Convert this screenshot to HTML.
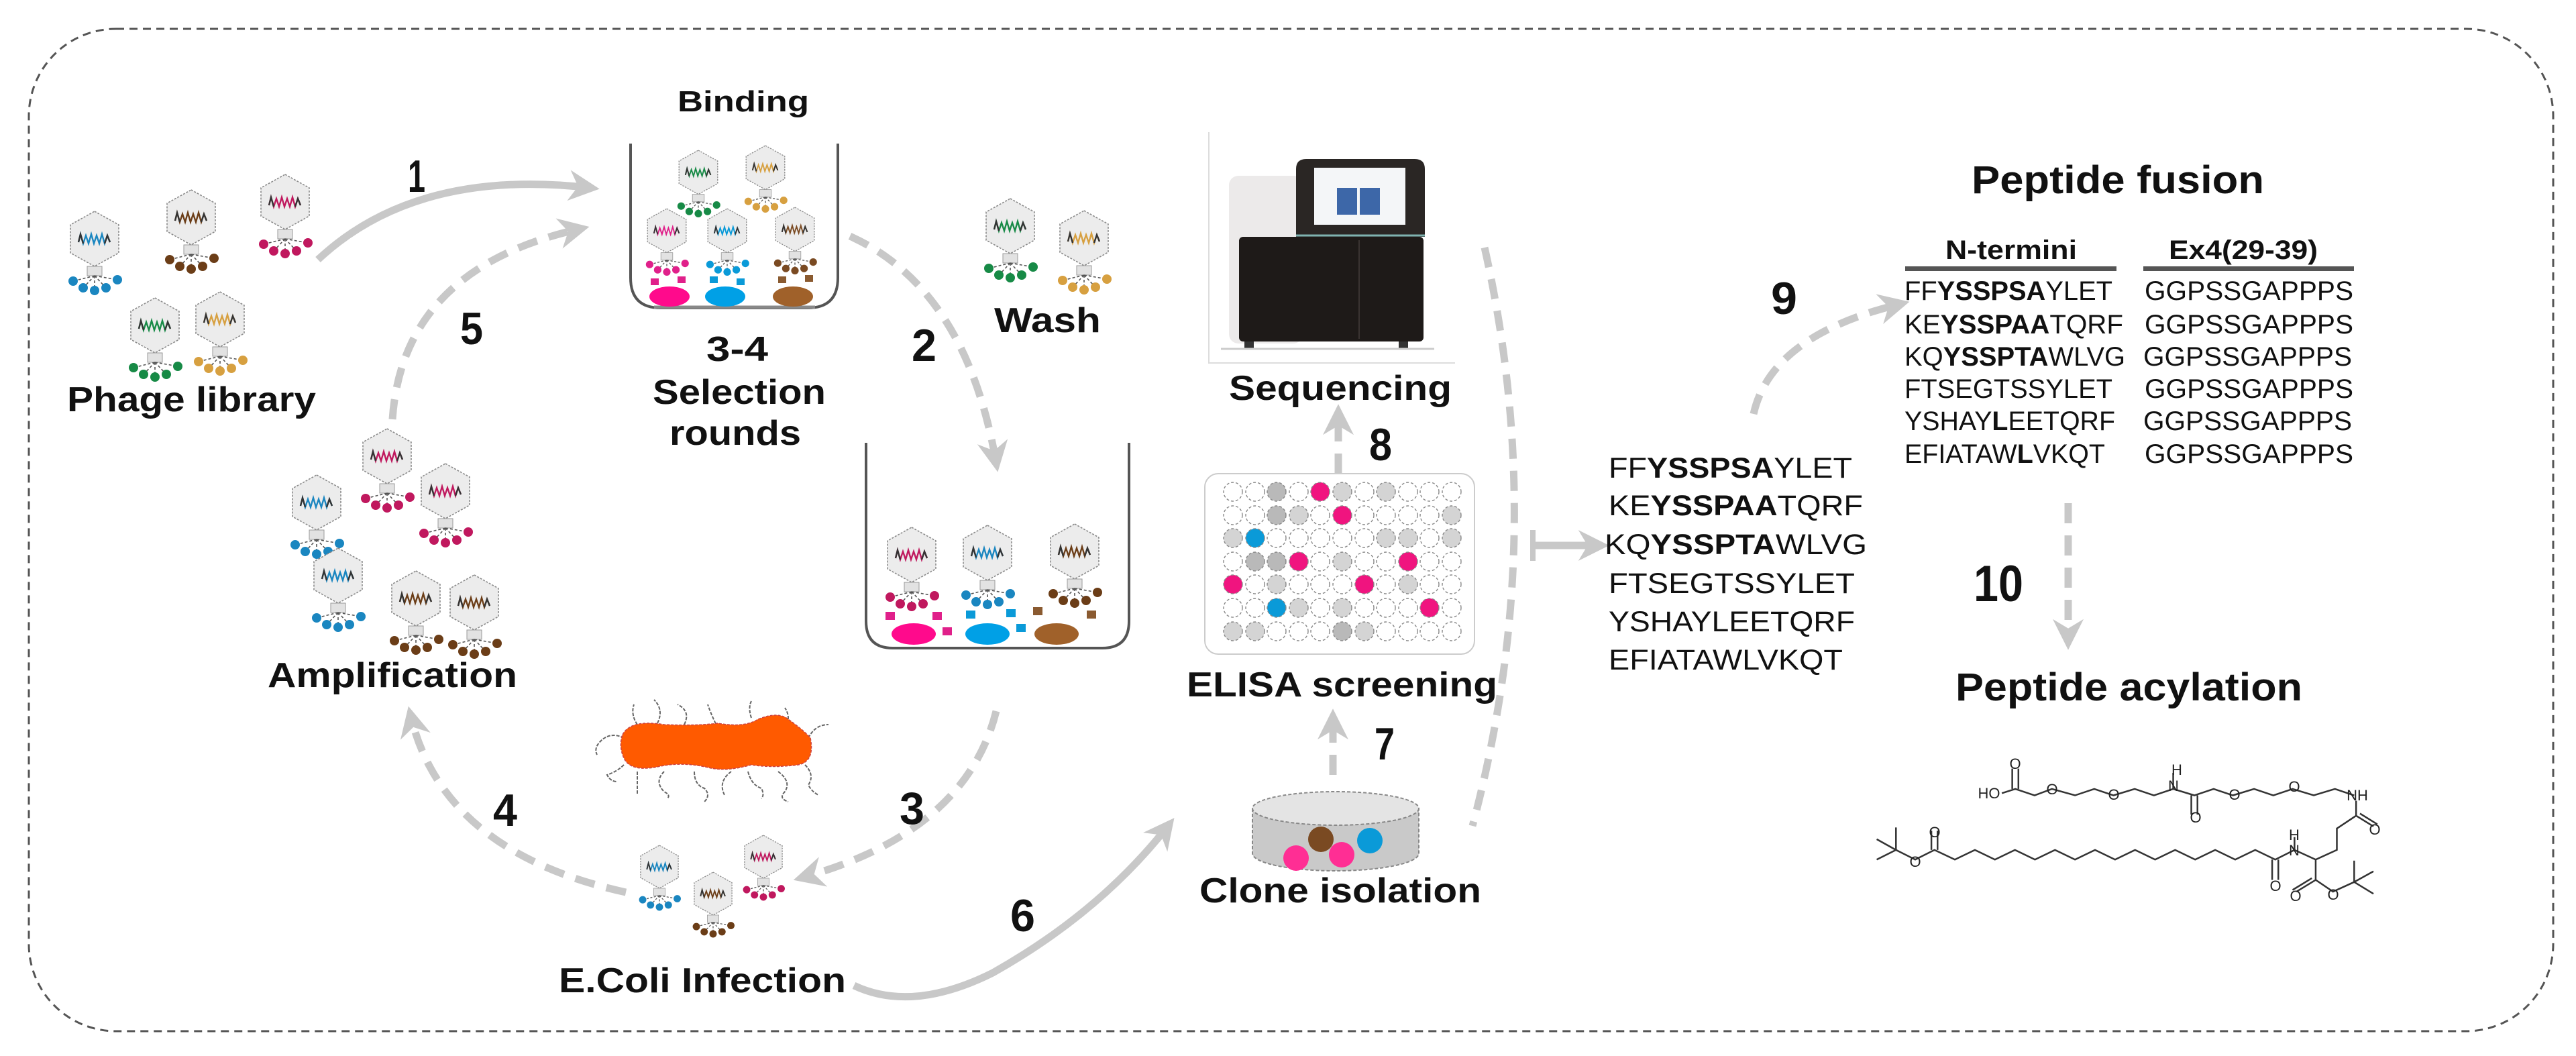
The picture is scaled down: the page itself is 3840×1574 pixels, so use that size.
<!DOCTYPE html>
<html><head><meta charset="utf-8"><style>
html,body{margin:0;padding:0;background:#fff}
svg{display:block}
text{font-family:"Liberation Sans",Arial,sans-serif}
.lb{font-weight:bold;font-size:52px;fill:#111}
.num{font-weight:bold;font-size:68px;fill:#111}
.sq{font-size:43px;fill:#111}
.tb{font-size:40px;fill:#111}
.ch{font-size:22px;fill:#222}
</style></head><body>
<svg width="3840" height="1574" viewBox="0 0 3840 1574" xmlns="http://www.w3.org/2000/svg">
<defs>
<marker id="ah" viewBox="0 0 10 10" refX="7" refY="5" markerWidth="46" markerHeight="46" markerUnits="userSpaceOnUse" orient="auto">
<path d="M0,0 L10,5 L0,10 L3,5 z" fill="#c8c8c8"/>
</marker>
<g id="ph">
<polygon points="0,0 36,20 36,62 0,82 -36,62 -36,20" fill="#ececec" stroke="#8a8a8a" stroke-width="1.6" stroke-dasharray="3 2"/>
<polyline points="-24,46 -21,34 -17,48 -13,36 -9,48 -5,34 -1,48 3,36 7,48 11,34 15,48 19,36 23,46" fill="none" stroke="currentColor" stroke-width="2.4"/>
<polyline points="-24,46 -21,34 -17,48 M15,48" fill="none" stroke="#333" stroke-width="2.4"/>
<polyline points="15,48 19,36 23,46" fill="none" stroke="#333" stroke-width="2.4"/>
<rect x="-11" y="82" width="22" height="14" fill="#e2e2e2" stroke="#999" stroke-width="1"/>
<g stroke="#555" stroke-width="1.6" stroke-dasharray="4 3">
<line x1="0" y1="96" x2="-32" y2="104"/><line x1="0" y1="96" x2="-17" y2="114"/><line x1="0" y1="96" x2="0" y2="118"/><line x1="0" y1="96" x2="17" y2="114"/><line x1="0" y1="96" x2="34" y2="102"/>
</g>
<g fill="currentColor"><circle cx="-32" cy="104" r="7"/><circle cx="-17" cy="114" r="7"/><circle cx="0" cy="118" r="7"/><circle cx="17" cy="114" r="7"/><circle cx="34" cy="102" r="7"/></g>
</g>
</defs>

<!-- outer dashed border -->
<rect x="43" y="43" width="3763" height="1494" rx="130" fill="none" stroke="#555" stroke-width="3" stroke-dasharray="12 8"/>

<!-- Phage library -->
<use href="#ph" transform="translate(141,315)" color="#1a86c0"/>
<use href="#ph" transform="translate(285,283)" color="#6b3d17"/>
<use href="#ph" transform="translate(425,260)" color="#c0185e"/>
<use href="#ph" transform="translate(231,444)" color="#178a46"/>
<use href="#ph" transform="translate(328,435)" color="#d7a040"/>
<text class="lb" x="100" y="613" textLength="371" lengthAdjust="spacingAndGlyphs">Phage library</text>

<!-- arrow 1 -->
<path d="M474,387 Q620,250 880,280" fill="none" stroke="#c8c8c8" stroke-width="11" marker-end="url(#ah)"/>
<text class="num" x="608" y="286" textLength="26" lengthAdjust="spacingAndGlyphs">1</text>
<!-- arrow 5 -->
<path d="M585,625 Q600,400 865,341" fill="none" stroke="#c8c8c8" stroke-width="11" stroke-dasharray="30 18" marker-end="url(#ah)"/>
<text class="num" x="686" y="513" textLength="34" lengthAdjust="spacingAndGlyphs">5</text>

<!-- Binding beaker -->
<text class="lb" style="font-size:44px" x="1010" y="166" textLength="196" lengthAdjust="spacingAndGlyphs">Binding</text>
<path d="M940,214 V414 Q940,459 985,459 H1204 Q1249,459 1249,414 V214" fill="none" stroke="#555" stroke-width="4"/>
<line x1="975" y1="458" x2="1215" y2="458" stroke="#888" stroke-width="5"/>
<use href="#ph" transform="translate(1041,224) scale(0.8)" color="#178a46"/>
<use href="#ph" transform="translate(1141,217) scale(0.8)" color="#d7a040"/>
<ellipse cx="998" cy="442" rx="30" ry="15" fill="#ff0a8c"/>
<ellipse cx="1081" cy="442" rx="30" ry="15" fill="#00a0e6"/>
<ellipse cx="1182" cy="442" rx="30" ry="15" fill="#a0612a"/>
<use href="#ph" transform="translate(994,311) scale(0.8)" color="#e0208a"/>
<use href="#ph" transform="translate(1084,311) scale(0.8)" color="#0a9ad8"/>
<use href="#ph" transform="translate(1185,309) scale(0.8)" color="#7a4a22"/>
<g fill="#e0208a"><rect x="970" y="415" width="12" height="10"/><rect x="1010" y="412" width="12" height="10"/></g>
<g fill="#0a9ad8"><rect x="1058" y="412" width="12" height="10"/><rect x="1098" y="415" width="12" height="10"/></g>
<g fill="#8a5a30"><rect x="1160" y="412" width="12" height="10"/><rect x="1200" y="410" width="12" height="10"/></g>
<text class="lb" x="1053" y="538" textLength="92" lengthAdjust="spacingAndGlyphs">3-4</text>
<text class="lb" x="973" y="602" textLength="258" lengthAdjust="spacingAndGlyphs">Selection</text>
<text class="lb" x="998" y="663" textLength="196" lengthAdjust="spacingAndGlyphs">rounds</text>

<!-- Wash -->
<use href="#ph" transform="translate(1506,296)" color="#178a46"/>
<use href="#ph" transform="translate(1616,314)" color="#d7a040"/>
<text class="lb" x="1482" y="495" textLength="159" lengthAdjust="spacingAndGlyphs">Wash</text>

<!-- arrow 2 -->
<path d="M1267,352 Q1440,430 1485,690" fill="none" stroke="#c8c8c8" stroke-width="11" stroke-dasharray="30 18" marker-end="url(#ah)"/>
<text class="num" x="1359" y="538" textLength="37" lengthAdjust="spacingAndGlyphs">2</text>

<!-- beaker 2 -->
<path d="M1291,660 V926 Q1291,966 1331,966 H1643 Q1683,966 1683,926 V660" fill="none" stroke="#555" stroke-width="4"/>
<ellipse cx="1362" cy="945" rx="33" ry="16" fill="#ff0a8c"/>
<ellipse cx="1472" cy="945" rx="33" ry="16" fill="#00a0e6"/>
<ellipse cx="1575" cy="945" rx="33" ry="16" fill="#a0612a"/>
<use href="#ph" transform="translate(1359,786)" color="#c0185e"/>
<use href="#ph" transform="translate(1472,783)" color="#1a86c0"/>
<use href="#ph" transform="translate(1602,781)" color="#6b3d17"/>
<g fill="#e0208a"><rect x="1320" y="912" width="14" height="12"/><rect x="1390" y="912" width="14" height="12"/><rect x="1405" y="935" width="14" height="12"/></g>
<g fill="#0a9ad8"><rect x="1440" y="910" width="14" height="12"/><rect x="1500" y="908" width="14" height="12"/><rect x="1515" y="930" width="14" height="12"/></g>
<g fill="#8a5a30"><rect x="1540" y="905" width="14" height="12"/><rect x="1620" y="910" width="14" height="12"/></g>

<!-- arrow 3 -->
<path d="M1485,1060 Q1440,1240 1196,1308" fill="none" stroke="#c8c8c8" stroke-width="11" stroke-dasharray="30 18" marker-end="url(#ah)"/>
<text class="num" x="1341" y="1228" textLength="37" lengthAdjust="spacingAndGlyphs">3</text>
<!-- arrow 4 -->
<path d="M933,1330 Q660,1270 612,1066" fill="none" stroke="#c8c8c8" stroke-width="11" stroke-dasharray="30 18" marker-end="url(#ah)"/>
<text class="num" x="735" y="1231" textLength="36" lengthAdjust="spacingAndGlyphs">4</text>

<!-- bacterium -->
<g fill="none" stroke="#666" stroke-width="2" stroke-dasharray="5 2">
<path d="M930,1100 q-20,-10 -35,5 q-10,10 -5,20"/>
<path d="M930,1140 q-10,10 -25,15 q5,10 15,10"/>
<path d="M950,1080 q-10,-15 -5,-30"/>
<path d="M980,1078 q10,-20 -5,-35"/>
<path d="M1020,1080 q10,-20 -10,-30"/>
<path d="M1070,1085 q-10,-20 -15,-35"/>
<path d="M1120,1070 q-5,-15 0,-25"/>
<path d="M1170,1085 q10,-15 0,-30"/>
<path d="M1205,1100 q10,-20 30,-20"/>
<path d="M950,1150 v35"/><path d="M990,1150 q-15,15 0,30 q10,5 5,10"/>
<path d="M1035,1150 q0,20 15,25 q10,10 0,20"/><path d="M1090,1150 q-20,15 -10,35"/>
<path d="M1115,1150 q5,20 20,25 q5,10 0,15"/><path d="M1160,1150 q20,15 10,30 q-10,10 5,15"/>
<path d="M1200,1140 q15,15 5,30 q5,10 15,15"/>
</g>
<path d="M928,1095 Q940,1072 990,1080 Q1040,1082 1070,1078 Q1110,1085 1130,1072 Q1160,1060 1175,1072 Q1200,1090 1208,1100 Q1215,1135 1190,1140 Q1150,1145 1120,1140 Q1085,1150 1060,1145 Q1020,1135 985,1142 Q940,1152 930,1130 Q922,1112 928,1095 Z" fill="#ff5a00" stroke="#c44" stroke-width="1.5" stroke-dasharray="4 2"/>

<!-- E.coli phages -->
<use href="#ph" transform="translate(983,1260) scale(0.78)" color="#1a86c0"/>
<use href="#ph" transform="translate(1138,1245) scale(0.78)" color="#c0185e"/>
<use href="#ph" transform="translate(1063,1300) scale(0.78)" color="#6b3d17"/>
<text class="lb" x="833" y="1479" textLength="428" lengthAdjust="spacingAndGlyphs">E.Coli Infection</text>

<!-- arrow 6 -->
<path d="M1273,1469 Q1360,1510 1480,1450 Q1640,1360 1742,1230" fill="none" stroke="#c8c8c8" stroke-width="11" marker-end="url(#ah)"/>
<text class="num" x="1506" y="1388" textLength="37" lengthAdjust="spacingAndGlyphs">6</text>

<!-- Amplification -->
<use href="#ph" transform="translate(577,639)" color="#c0185e"/>
<use href="#ph" transform="translate(664,691)" color="#c0185e"/>
<use href="#ph" transform="translate(472,708)" color="#1a86c0"/>
<use href="#ph" transform="translate(504,817)" color="#1a86c0"/>
<use href="#ph" transform="translate(620,851)" color="#6b3d17"/>
<use href="#ph" transform="translate(707,857)" color="#6b3d17"/>
<text class="lb" x="399" y="1024" textLength="372" lengthAdjust="spacingAndGlyphs">Amplification</text>

<!-- Sequencer -->
<path d="M1802,197 V541 H2169" fill="none" stroke="#ddd" stroke-width="2"/>
<rect x="1832" y="262" width="110" height="250" rx="14" fill="#eceaea"/>
<path d="M1932,353 V252 Q1932,237 1947,237 H2109 Q2124,237 2124,252 V353 Z" fill="#2a2624"/>
<rect x="1959" y="250" width="136" height="85" fill="#f4f6f8"/>
<rect x="1993" y="280" width="30" height="40" fill="#3d67a8"/>
<rect x="2027" y="280" width="30" height="40" fill="#3d67a8"/>
<rect x="1847" y="353" width="275" height="156" rx="6" fill="#1e1a18"/>
<line x1="1932" y1="351" x2="2124" y2="351" stroke="#7fb3b0" stroke-width="3"/>
<line x1="2026" y1="358" x2="2026" y2="505" stroke="#3a3432" stroke-width="2"/>
<rect x="1855" y="509" width="14" height="10" fill="#333"/><rect x="2085" y="509" width="14" height="10" fill="#333"/>
<line x1="1820" y1="520" x2="2138" y2="520" stroke="#ccc" stroke-width="3"/>
<text class="lb" x="1832" y="596" textLength="332" lengthAdjust="spacingAndGlyphs">Sequencing</text>

<!-- arrow 8 -->
<path d="M1995,706 V616" fill="none" stroke="#c8c8c8" stroke-width="11" stroke-dasharray="30 18" marker-end="url(#ah)"/>
<text class="num" x="2041" y="686" textLength="34" lengthAdjust="spacingAndGlyphs">8</text>

<!-- ELISA plate -->
<rect x="1796" y="706" width="402" height="269" rx="20" fill="#fff" stroke="#ccc" stroke-width="2"/>
<g id="plate" stroke="#777" stroke-width="1.5" stroke-dasharray="4 3"></g>
<g stroke="#888" stroke-width="1.4" stroke-dasharray="4 3">
<!-- row 0 -->
<circle cx="1838" cy="733" r="14" fill="#fff"/><circle cx="1871" cy="733" r="14" fill="#fff"/><circle cx="1903" cy="733" r="14" fill="#b9b9b9"/><circle cx="1936" cy="733" r="14" fill="#fff"/><circle cx="1968" cy="733" r="14" fill="#f0147f"/><circle cx="2001" cy="733" r="14" fill="#d4d4d4"/><circle cx="2034" cy="733" r="14" fill="#fff"/><circle cx="2066" cy="733" r="14" fill="#d4d4d4"/><circle cx="2099" cy="733" r="14" fill="#fff"/><circle cx="2131" cy="733" r="14" fill="#fff"/><circle cx="2164" cy="733" r="14" fill="#fff"/>
<!-- row 1 -->
<circle cx="1838" cy="768" r="14" fill="#fff"/><circle cx="1871" cy="768" r="14" fill="#fff"/><circle cx="1903" cy="768" r="14" fill="#b9b9b9"/><circle cx="1936" cy="768" r="14" fill="#d4d4d4"/><circle cx="1968" cy="768" r="14" fill="#fff"/><circle cx="2001" cy="768" r="14" fill="#f0147f"/><circle cx="2034" cy="768" r="14" fill="#fff"/><circle cx="2066" cy="768" r="14" fill="#fff"/><circle cx="2099" cy="768" r="14" fill="#fff"/><circle cx="2131" cy="768" r="14" fill="#fff"/><circle cx="2164" cy="768" r="14" fill="#d4d4d4"/>
<!-- row 2 -->
<circle cx="1838" cy="802" r="14" fill="#d4d4d4"/><circle cx="1871" cy="802" r="14" fill="#0a9ad8"/><circle cx="1903" cy="802" r="14" fill="#fff"/><circle cx="1936" cy="802" r="14" fill="#fff"/><circle cx="1968" cy="802" r="14" fill="#fff"/><circle cx="2001" cy="802" r="14" fill="#fff"/><circle cx="2034" cy="802" r="14" fill="#fff"/><circle cx="2066" cy="802" r="14" fill="#d4d4d4"/><circle cx="2099" cy="802" r="14" fill="#d4d4d4"/><circle cx="2131" cy="802" r="14" fill="#fff"/><circle cx="2164" cy="802" r="14" fill="#d4d4d4"/>
<!-- row 3 -->
<circle cx="1838" cy="837" r="14" fill="#fff"/><circle cx="1871" cy="837" r="14" fill="#b9b9b9"/><circle cx="1903" cy="837" r="14" fill="#b9b9b9"/><circle cx="1936" cy="837" r="14" fill="#f0147f"/><circle cx="1968" cy="837" r="14" fill="#fff"/><circle cx="2001" cy="837" r="14" fill="#d4d4d4"/><circle cx="2034" cy="837" r="14" fill="#fff"/><circle cx="2066" cy="837" r="14" fill="#fff"/><circle cx="2099" cy="837" r="14" fill="#f0147f"/><circle cx="2131" cy="837" r="14" fill="#fff"/><circle cx="2164" cy="837" r="14" fill="#fff"/>
<!-- row 4 -->
<circle cx="1838" cy="871" r="14" fill="#f0147f"/><circle cx="1871" cy="871" r="14" fill="#fff"/><circle cx="1903" cy="871" r="14" fill="#d4d4d4"/><circle cx="1936" cy="871" r="14" fill="#fff"/><circle cx="1968" cy="871" r="14" fill="#fff"/><circle cx="2001" cy="871" r="14" fill="#fff"/><circle cx="2034" cy="871" r="14" fill="#f0147f"/><circle cx="2066" cy="871" r="14" fill="#fff"/><circle cx="2099" cy="871" r="14" fill="#d4d4d4"/><circle cx="2131" cy="871" r="14" fill="#fff"/><circle cx="2164" cy="871" r="14" fill="#fff"/>
<!-- row 5 -->
<circle cx="1838" cy="906" r="14" fill="#fff"/><circle cx="1871" cy="906" r="14" fill="#fff"/><circle cx="1903" cy="906" r="14" fill="#0a9ad8"/><circle cx="1936" cy="906" r="14" fill="#d4d4d4"/><circle cx="1968" cy="906" r="14" fill="#fff"/><circle cx="2001" cy="906" r="14" fill="#d4d4d4"/><circle cx="2034" cy="906" r="14" fill="#fff"/><circle cx="2066" cy="906" r="14" fill="#fff"/><circle cx="2099" cy="906" r="14" fill="#fff"/><circle cx="2131" cy="906" r="14" fill="#f0147f"/><circle cx="2164" cy="906" r="14" fill="#fff"/>
<!-- row 6 -->
<circle cx="1838" cy="941" r="14" fill="#d4d4d4"/><circle cx="1871" cy="941" r="14" fill="#d4d4d4"/><circle cx="1903" cy="941" r="14" fill="#fff"/><circle cx="1936" cy="941" r="14" fill="#fff"/><circle cx="1968" cy="941" r="14" fill="#fff"/><circle cx="2001" cy="941" r="14" fill="#b9b9b9"/><circle cx="2034" cy="941" r="14" fill="#d4d4d4"/><circle cx="2066" cy="941" r="14" fill="#fff"/><circle cx="2099" cy="941" r="14" fill="#fff"/><circle cx="2131" cy="941" r="14" fill="#fff"/><circle cx="2164" cy="941" r="14" fill="#fff"/>
</g>
<text class="lb" x="1769" y="1038" textLength="463" lengthAdjust="spacingAndGlyphs">ELISA screening</text>

<!-- arrow 7 -->
<path d="M1987,1155 V1070" fill="none" stroke="#c8c8c8" stroke-width="11" stroke-dasharray="30 18" marker-end="url(#ah)"/>
<text class="num" x="2049" y="1132" textLength="30" lengthAdjust="spacingAndGlyphs">7</text>

<!-- Petri dish -->
<path d="M1867,1205 V1272 A124,26 0 0 0 2115,1272 V1205 Z" fill="#c9c9c9" stroke="#888" stroke-width="2" stroke-dasharray="5 3"/>
<ellipse cx="1991" cy="1205" rx="124" ry="25" fill="#e4e4e4" stroke="#888" stroke-width="2" stroke-dasharray="5 3"/>
<circle cx="1969" cy="1251" r="19" fill="#7a4a22"/>
<circle cx="2042" cy="1253" r="19" fill="#0a9ad8"/>
<circle cx="2000" cy="1274" r="19" fill="#ff2e94"/>
<circle cx="1932" cy="1279" r="19" fill="#ff2e94"/>
<text class="lb" x="1788" y="1345" textLength="420" lengthAdjust="spacingAndGlyphs">Clone isolation</text>

<!-- big dashed curve + arrow to sequences -->
<path d="M2213,369 Q2310,800 2195,1231" fill="none" stroke="#c8c8c8" stroke-width="11" stroke-dasharray="30 18"/>
<path d="M2285,813 H2385" fill="none" stroke="#c8c8c8" stroke-width="11" marker-end="url(#ah)"/>
<line x1="2285" y1="790" x2="2285" y2="836" stroke="#c8c8c8" stroke-width="8"/>

<!-- Sequence list -->
<text class="sq" x="2398" y="712" textLength="363" lengthAdjust="spacingAndGlyphs">FF<tspan font-weight="bold">YSSPSA</tspan>YLET</text>
<text class="sq" x="2398" y="768" textLength="379" lengthAdjust="spacingAndGlyphs">KE<tspan font-weight="bold">YSSPAA</tspan>TQRF</text>
<text class="sq" x="2392" y="826" textLength="391" lengthAdjust="spacingAndGlyphs">KQ<tspan font-weight="bold">YSSPTA</tspan>WLVG</text>
<text class="sq" x="2398" y="884" textLength="367" lengthAdjust="spacingAndGlyphs">FTSEGTSSYLET</text>
<text class="sq" x="2398" y="941" textLength="367" lengthAdjust="spacingAndGlyphs">YSHAYLEETQRF</text>
<text class="sq" x="2398" y="998" textLength="349" lengthAdjust="spacingAndGlyphs">EFIATAWLVKQT</text>

<!-- arrow 9 -->
<path d="M2614,617 Q2640,500 2833,453" fill="none" stroke="#c8c8c8" stroke-width="11" stroke-dasharray="30 18" marker-end="url(#ah)"/>
<text class="num" x="2640" y="468" textLength="39" lengthAdjust="spacingAndGlyphs">9</text>

<!-- Peptide fusion table -->
<text class="lb" style="font-size:58px" x="2939" y="288" textLength="436" lengthAdjust="spacingAndGlyphs">Peptide fusion</text>
<text class="tb" font-weight="bold" x="2900" y="386" textLength="196" lengthAdjust="spacingAndGlyphs">N-termini</text>
<text class="tb" font-weight="bold" x="3233" y="386" textLength="222" lengthAdjust="spacingAndGlyphs">Ex4(29-39)</text>
<rect x="2840" y="397" width="315" height="7" fill="#555"/>
<rect x="3195" y="397" width="314" height="7" fill="#555"/>
<text class="tb" x="2839" y="447" textLength="310" lengthAdjust="spacingAndGlyphs">FF<tspan font-weight="bold">YSSPSA</tspan>YLET</text>
<text class="tb" x="2839" y="497" textLength="326" lengthAdjust="spacingAndGlyphs">KE<tspan font-weight="bold">YSSPAA</tspan>TQRF</text>
<text class="tb" x="2839" y="545" textLength="329" lengthAdjust="spacingAndGlyphs">KQ<tspan font-weight="bold">YSSPTA</tspan>WLVG</text>
<text class="tb" x="2839" y="593" textLength="310" lengthAdjust="spacingAndGlyphs">FTSEGTSSYLET</text>
<text class="tb" x="2839" y="641" textLength="314" lengthAdjust="spacingAndGlyphs">YSHAY<tspan font-weight="bold">L</tspan>EETQRF</text>
<text class="tb" x="2839" y="690" textLength="299" lengthAdjust="spacingAndGlyphs">EFIATAW<tspan font-weight="bold">L</tspan>VKQT</text>
<g class="tb">
<text class="tb" x="3197" y="447" textLength="311" lengthAdjust="spacingAndGlyphs">GGPSSGAPPPS</text>
<text class="tb" x="3197" y="497" textLength="311" lengthAdjust="spacingAndGlyphs">GGPSSGAPPPS</text>
<text class="tb" x="3195" y="545" textLength="311" lengthAdjust="spacingAndGlyphs">GGPSSGAPPPS</text>
<text class="tb" x="3197" y="593" textLength="311" lengthAdjust="spacingAndGlyphs">GGPSSGAPPPS</text>
<text class="tb" x="3195" y="641" textLength="311" lengthAdjust="spacingAndGlyphs">GGPSSGAPPPS</text>
<text class="tb" x="3197" y="690" textLength="311" lengthAdjust="spacingAndGlyphs">GGPSSGAPPPS</text>
</g>

<!-- arrow 10 -->
<path d="M3083,750 V955" fill="none" stroke="#c8c8c8" stroke-width="11" stroke-dasharray="30 18" marker-end="url(#ah)"/>
<text class="num" style="font-size:76px" x="2942" y="896" textLength="74" lengthAdjust="spacingAndGlyphs">10</text>

<text class="lb" style="font-size:58px" x="2915" y="1044" textLength="517" lengthAdjust="spacingAndGlyphs">Peptide acylation</text>

<!-- chemical structure -->
<g transform="translate(2700 900) scale(0.574 0.319)" fill="none" stroke="#333" stroke-width="2.5">
<g vector-effect="non-scaling-stroke">
<polyline vector-effect="non-scaling-stroke" points="495,885 530,865 580,895 625,865 685,895 735,865 785,895 840,865 890,895 940,865 995,895 1045,865 1095,895 1150,865 1200,895 1250,865 1305,895 1360,865 1410,895"/>
<line vector-effect="non-scaling-stroke" x1="522" y1="865" x2="522" y2="770"/><line vector-effect="non-scaling-stroke" x1="538" y1="865" x2="538" y2="770"/>
<line vector-effect="non-scaling-stroke" x1="987" y1="895" x2="987" y2="985"/><line vector-effect="non-scaling-stroke" x1="1003" y1="895" x2="1003" y2="985"/>
<line vector-effect="non-scaling-stroke" x1="940" y1="865" x2="940" y2="790"/>
<polyline vector-effect="non-scaling-stroke" points="1415,920 1415,990 1365,1050 1365,1150 1310,1195 1255,1150"/>
<line vector-effect="non-scaling-stroke" x1="1415" y1="990" x2="1460" y2="1040"/><line vector-effect="non-scaling-stroke" x1="1425" y1="980" x2="1470" y2="1030"/>
<polyline vector-effect="non-scaling-stroke" points="1255,1150 1205,1195 1153,1150 1101,1195 1049,1150 997,1195 945,1150 893,1195 841,1150 789,1195 737,1150 685,1195 633,1150 581,1195 529,1150 477,1195 425,1150 373,1195 320,1150 270,1195 220,1150"/>
<line vector-effect="non-scaling-stroke" x1="1197" y1="1195" x2="1197" y2="1290"/><line vector-effect="non-scaling-stroke" x1="1213" y1="1195" x2="1213" y2="1290"/>
<line vector-effect="non-scaling-stroke" x1="312" y1="1150" x2="312" y2="1060"/><line vector-effect="non-scaling-stroke" x1="328" y1="1150" x2="328" y2="1060"/>
<polyline vector-effect="non-scaling-stroke" points="170,1100 220,1150 170,1195"/><line vector-effect="non-scaling-stroke" x1="220" y1="1150" x2="220" y2="1045"/>
<line vector-effect="non-scaling-stroke" x1="1255" y1="1150" x2="1255" y2="1090"/>
<polyline vector-effect="non-scaling-stroke" points="1310,1195 1310,1290 1355,1345 1410,1300"/>
<line vector-effect="non-scaling-stroke" x1="1310" y1="1290" x2="1260" y2="1345"/><line vector-effect="non-scaling-stroke" x1="1300" y1="1282" x2="1250" y2="1337"/>
<polyline vector-effect="non-scaling-stroke" points="1460,1250 1410,1300 1460,1355"/><line vector-effect="non-scaling-stroke" x1="1410" y1="1300" x2="1410" y2="1200"/>
</g>
</g>
<g class="ch" text-anchor="middle">
<text x="2965" y="1190">HO</text>
<text x="3004" y="1146">O</text>
<text x="3059" y="1184">O</text>
<text x="3151" y="1192">O</text>
<text x="3240" y="1179">N</text>
<text x="3245" y="1155">H</text>
<text x="3273" y="1226">O</text>
<text x="3331" y="1192">O</text>
<text x="3420" y="1180">O</text>
<text x="3514" y="1193">NH</text>
<text x="3540" y="1244">O</text>
<text x="2884" y="1248">O</text>
<text x="2855" y="1292">O</text>
<text x="3420" y="1275">N</text>
<text x="3420" y="1252">H</text>
<text x="3392" y="1328">O</text>
<text x="3422" y="1343">O</text>
<text x="3478" y="1341">O</text>
</g>
</svg>
</body></html>
